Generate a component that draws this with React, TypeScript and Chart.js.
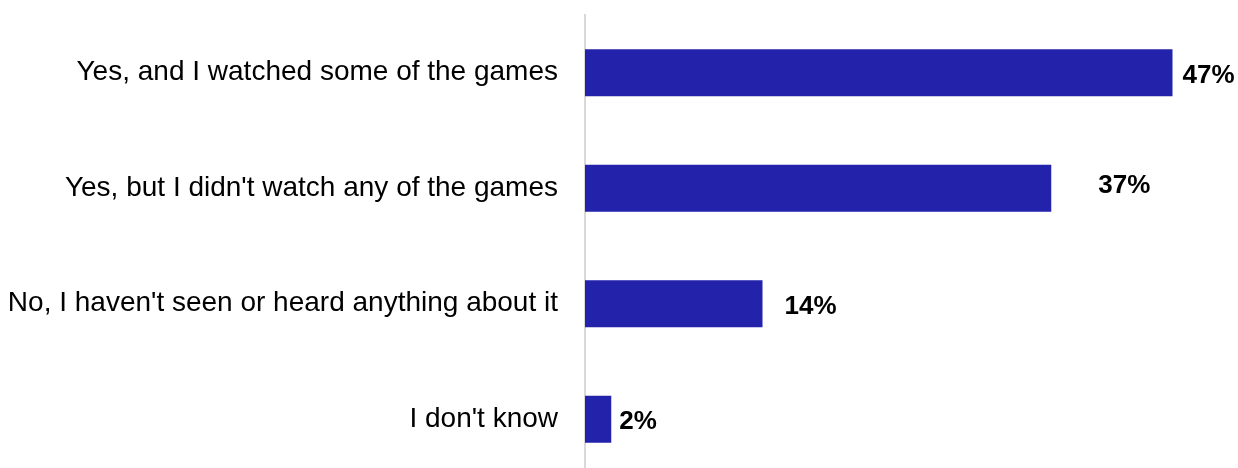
import React, { useEffect, useRef } from "react";
import { Chart, registerables } from "chart.js";

Chart.register(...registerables);

const categories = [
  "Yes, and I watched some of the games",
  "Yes, but I didn't watch any of the games",
  "No, I haven't seen or heard anything about it",
  "I don't know",
];
const values = [47.0, 37.3, 14.2, 2.1];
const valueLabels = ["47%", "37%", "14%", "2%"];

const FONT = "'Liberation Sans', Arial, Helvetica, sans-serif";

export default function App() {
  const canvasRef = useRef<HTMLCanvasElement | null>(null);

  useEffect(() => {
    document.body.style.margin = "0";
    const canvas = canvasRef.current;
    if (!canvas) return;

    // manual label nudges (as placed in the original)
    const labelDx = [10, 47, 22, 8];
    const labelDy = [3, -2, 3, 3];

    const valueLabelPlugin = {
      id: "valueLabels",
      afterDatasetsDraw(chart: any) {
        const ctx = chart.ctx;
        const meta = chart.getDatasetMeta(0);
        ctx.save();
        ctx.font = `bold 26px ${FONT}`;
        ctx.fillStyle = "#000000";
        ctx.textAlign = "left";
        ctx.textBaseline = "middle";
        meta.data.forEach((bar: any, i: number) => {
          ctx.fillText(valueLabels[i], bar.x + labelDx[i], bar.y + labelDy[i]);
        });
        ctx.restore();
      },
    };

    const chart = new Chart(canvas, {
      type: "bar",
      data: {
        labels: categories,
        datasets: [
          {
            data: values,
            backgroundColor: "#2222AA",
            borderWidth: 0,
            categoryPercentage: 1,
            barPercentage: 0.407,
          },
        ],
      },
      options: {
        indexAxis: "y",
        animation: false,
        responsive: true,
        maintainAspectRatio: false,
        layout: { padding: { top: 15, right: 28, left: 0, bottom: 0 } },
        plugins: {
          legend: { display: false },
          tooltip: { enabled: false },
        },
        scales: {
          x: {
            display: false,
            min: 0,
            max: 50,
          },
          y: {
            afterFit(scale: any) {
              scale.width = 585;
              scale.paddingTop = 0;
              scale.paddingBottom = 0;
            },
            grid: { display: false, drawTicks: false },
            border: { display: true, color: "#d9d9d9", width: 2 },
            ticks: {
              padding: 27,
              color: "#000000",
              font: { family: FONT, size: 28 },
            },
          },
        },
      },
      plugins: [valueLabelPlugin],
    });

    return () => chart.destroy();
  }, []);

  return (
    <div style={{ width: 1238, height: 468, overflow: "hidden", background: "#fff" }}>
      <div style={{ position: "relative", width: 1238, height: 477 }}>
        <canvas ref={canvasRef} />
      </div>
    </div>
  );
}
